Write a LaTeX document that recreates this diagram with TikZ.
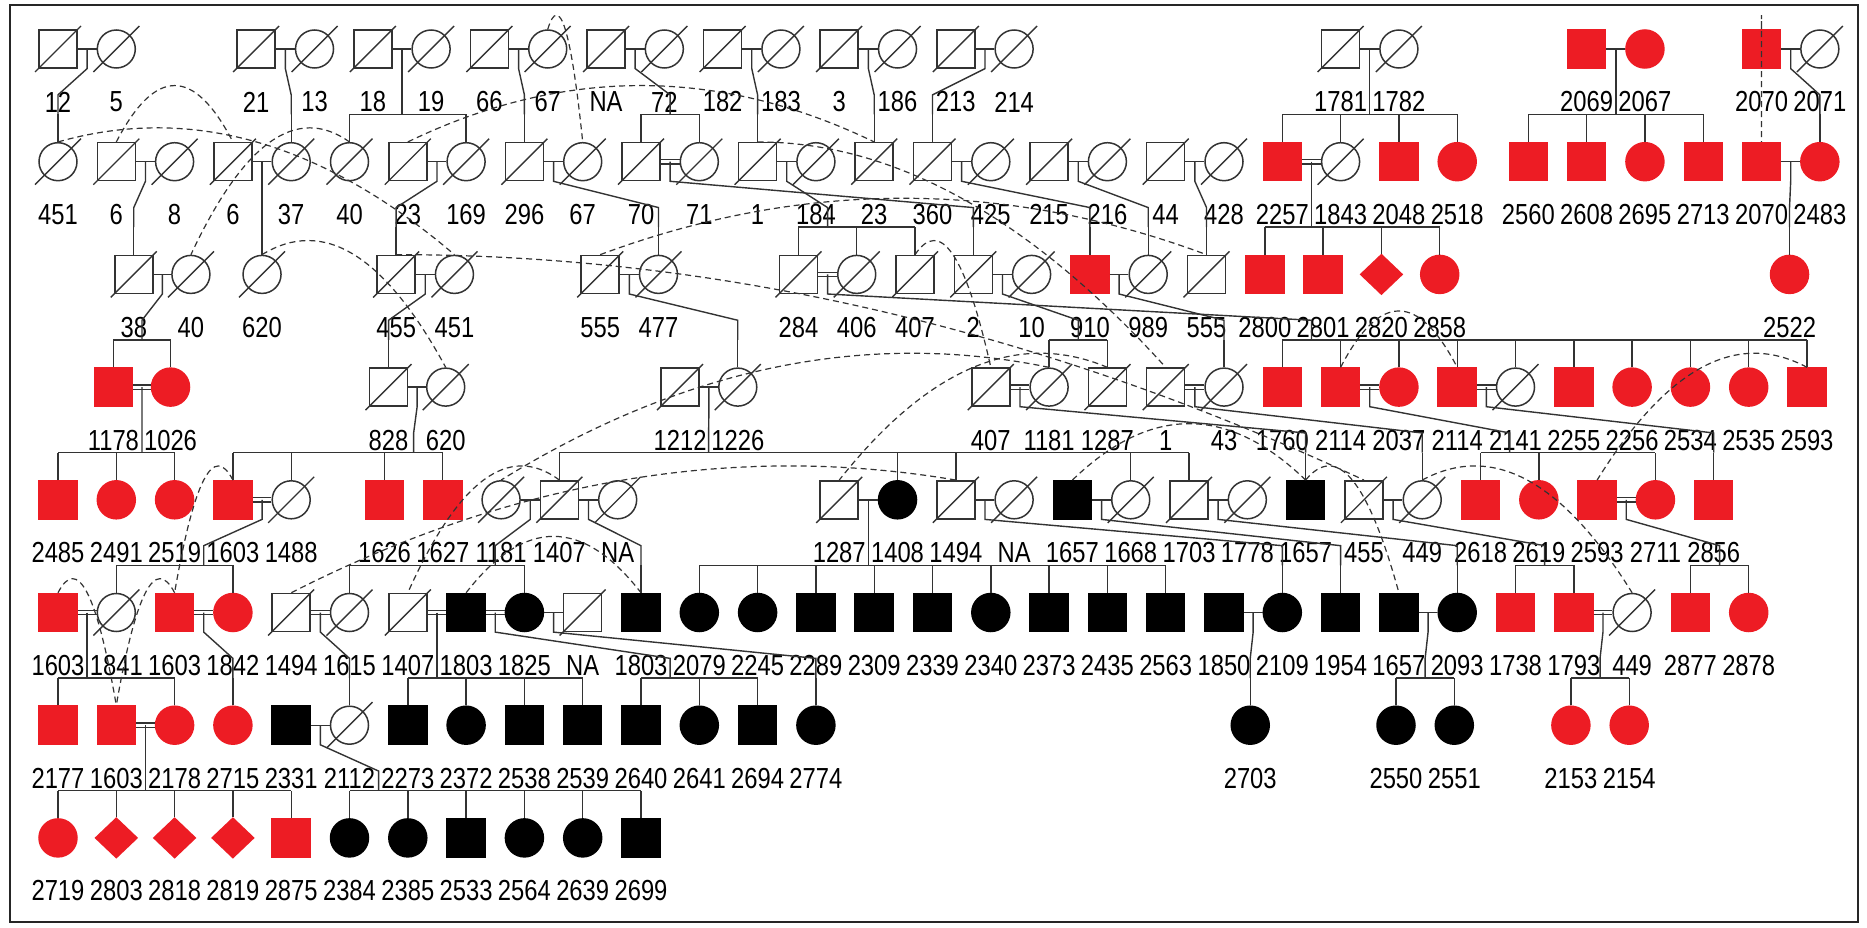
\documentclass[tikz,border=0pt]{standalone}
\usepackage{fontspec}
\newfontfamily\labfont{Liberation Sans}[FakeStretch=0.82]
\usetikzlibrary{shapes.geometric,calc}
\definecolor{pedred}{RGB}{237,28,36}
\definecolor{ink}{gray}{0.2}

% one person: name, shape style, position, label
\newcommand\person[4]{\node[#2] (#1) at (#3) {};
  \node[lab] (l#1) at ([yshift=-53pt]#1.center) {#4};}
\newcommand\deadp[4]{\person{#1}{#2}{#3}{#4}
  \draw[conn] ([shift={(-23pt,-23pt)}]#1.center) -- ([shift={(23pt,23pt)}]#1.center);}
% marriages
\newcommand\mar[2]{\draw[conn] (#1.east) -- (#2.west);}
\newcommand\dmar[2]{\draw[conn] ([yshift=2.2pt]#1.east) -- ([yshift=2.2pt]#2.west)
  ([yshift=-2.2pt]#1.east) -- ([yshift=-2.2pt]#2.west);}
% parents, parent row, join column, first child, last child, children
\newcommand\kids[7]{\coordinate (bar) at (0,#3+.581);
  \draw[conn] ($(#1)!.5!(#2)$) -- ++(0,.174) -- (#4,#3+.407) -- (#4,#3+.581);
  \draw[conn] (#5.north |- bar) -- (#6.north |- bar);
  \foreach \kd in {#7} \draw[conn] (\kd.north) -- (\kd.north |- bar);}
% same person drawn twice
\newcommand\dup[2]{\draw[dupl] (#1.north) .. controls ($(#1.north)!1/3!(#2.north)+(0,-.667)$)
  and ($(#1.north)!2/3!(#2.north)+(0,-.667)$) .. (#2.north);}

\begin{document}
\begin{tikzpicture}[x=58.3pt,y=-112.7pt,
  ind/.style={draw=ink,line width=1.5pt,fill=white,inner sep=0pt},
  m/.style={ind,rectangle,minimum width=38pt,minimum height=38pt},
  f/.style={ind,circle,minimum size=38pt},
  u/.style={ind,diamond,minimum width=42pt,minimum height=40pt},
  aff/.style={fill=pedred,draw=pedred},
  blk/.style={fill=black,draw=black},
  conn/.style={draw=ink,line width=1.4pt},
  dupl/.style={draw=ink,line width=1.2pt,dash pattern=on 6pt off 4pt},
  lab/.style={font=\fontsize{29}{29}\labfont,text=black,inner sep=0pt}]
\useasboundingbox (-58pt,49pt) rectangle (1809pt,-879pt);
\draw[line width=1.8pt,black!85] (-48pt,44pt) rectangle (1800pt,-873pt);
% ---- generation I ----
\deadp{n12}{m}{0,0}{12} \deadp{n5}{f}{1,0}{5}
\deadp{n21}{m}{3.4,0}{21} \deadp{n13}{f}{4.4,0}{13}
\deadp{n18}{m}{5.4,0}{18} \deadp{n19}{f}{6.4,0}{19}
\deadp{n66}{m}{7.4,0}{66} \deadp{n67a}{f}{8.4,0}{67}
\deadp{nNAa}{m}{9.4,0}{NA} \deadp{n72}{f}{10.4,0}{72}
\deadp{n182}{m}{11.4,0}{182} \deadp{n183}{f}{12.4,0}{183}
\deadp{n3}{m}{13.4,0}{3} \deadp{n186}{f}{14.4,0}{186}
\deadp{n213}{m}{15.4,0}{213} \deadp{n214}{f}{16.4,0}{214}
\deadp{n1781}{m}{22,0}{1781} \deadp{n1782}{f}{23,0}{1782}
\person{n2069}{m,aff}{26.22,0}{2069} \person{n2067}{f,aff}{27.22,0}{2067}
\person{n2070a}{m,aff}{29.22,0}{2070} \deadp{n2071}{f}{30.22,0}{2071}
% ---- generation II ----
\deadp{n451a}{f}{0,1}{451} \deadp{n6a}{m}{1,1}{6} \deadp{n8}{f}{2,1}{8}
\deadp{n6b}{m}{3,1}{6} \deadp{n37}{f}{4,1}{37} \deadp{n40a}{f}{5,1}{40}
\deadp{n23a}{m}{6,1}{23} \deadp{n169}{f}{7,1}{169} \deadp{n296}{m}{8,1}{296}
\deadp{n67b}{f}{9,1}{67} \deadp{n70}{m}{10,1}{70} \deadp{n71}{f}{11,1}{71}
\deadp{n1a}{m}{12,1}{1} \deadp{n184}{f}{13,1}{184} \deadp{n23b}{m}{14,1}{23}
\deadp{n360}{m}{15,1}{360} \deadp{n425}{f}{16,1}{425} \deadp{n215}{m}{17,1}{215}
\deadp{n216}{f}{18,1}{216} \deadp{n44}{m}{19,1}{44} \deadp{n428}{f}{20,1}{428}
\person{n2257}{m,aff}{21,1}{2257} \deadp{n1843}{f}{22,1}{1843}
\person{n2048}{m,aff}{23,1}{2048} \person{n2518}{f,aff}{24,1}{2518}
\person{n2560}{m,aff}{25.22,1}{2560} \person{n2608}{m,aff}{26.22,1}{2608}
\person{n2695}{f,aff}{27.22,1}{2695} \person{n2713}{m,aff}{28.22,1}{2713}
\person{n2070b}{m,aff}{29.22,1}{2070} \person{n2483}{f,aff}{30.22,1}{2483}
% ---- generation III ----
\deadp{n38}{m}{1.3,2}{38} \deadp{n40b}{f}{2.28,2}{40} \deadp{n620a}{f}{3.5,2}{620}
\deadp{n455a}{m}{5.8,2}{455} \deadp{n451b}{f}{6.8,2}{451}
\deadp{n555a}{m}{9.3,2}{555} \deadp{n477}{f}{10.3,2}{477}
\deadp{n284}{m}{12.7,2}{284} \deadp{n406}{f}{13.7,2}{406} \deadp{n407a}{m}{14.7,2}{407}
\deadp{n2}{m}{15.7,2}{2} \deadp{n10}{f}{16.7,2}{10} \person{n910}{m,aff}{17.7,2}{910}
\deadp{n989}{f}{18.7,2}{989} \deadp{n555b}{m}{19.7,2}{555}
\person{n2800}{m,aff}{20.7,2}{2800} \person{n2801}{m,aff}{21.7,2}{2801}
\person{n2820}{u,aff}{22.7,2}{2820} \person{n2858}{f,aff}{23.7,2}{2858}
\person{n2522}{f,aff}{29.7,2}{2522}
% ---- generation IV ----
\person{n1178}{m,aff}{0.95,3}{1178} \person{n1026}{f,aff}{1.93,3}{1026}
\deadp{n828}{m}{5.67,3}{828} \deadp{n620b}{f}{6.65,3}{620}
\deadp{n1212}{m}{10.67,3}{1212} \deadp{n1226}{f}{11.66,3}{1226}
\deadp{n407b}{m}{16,3}{407} \deadp{n1181a}{f}{17,3}{1181} \deadp{n1287a}{m}{18,3}{1287}
\deadp{n1b}{m}{19,3}{1} \deadp{n43}{f}{20,3}{43}
\person{n1760}{m,aff}{21,3}{1760} \person{n2114a}{m,aff}{22,3}{2114}
\person{n2037}{f,aff}{23,3}{2037} \person{n2114b}{m,aff}{24,3}{2114}
\deadp{n2141}{f}{25,3}{2141} \person{n2255}{m,aff}{26,3}{2255}
\person{n2256}{f,aff}{27,3}{2256} \person{n2534}{f,aff}{28,3}{2534}
\person{n2535}{f,aff}{29,3}{2535} \person{n2593a}{m,aff}{30,3}{2593}
% ---- generation V ----
\person{n2485}{m,aff}{0,4}{2485} \person{n2491}{f,aff}{1,4}{2491}
\person{n2519}{f,aff}{2,4}{2519} \person{n1603a}{m,aff}{3,4}{1603}
\deadp{n1488}{f}{4,4}{1488} \person{n1626}{m,aff}{5.6,4}{1626}
\person{n1627}{m,aff}{6.6,4}{1627} \deadp{n1181b}{f}{7.6,4}{1181}
\deadp{n1407a}{m}{8.6,4}{1407} \deadp{nNAb}{f}{9.6,4}{NA}
\deadp{n1287b}{m}{13.4,4}{1287} \person{n1408}{f,blk}{14.4,4}{1408}
\deadp{n1494a}{m}{15.4,4}{1494} \deadp{nNAc}{f}{16.4,4}{NA}
\person{n1657a}{m,blk}{17.4,4}{1657} \deadp{n1668}{f}{18.4,4}{1668}
\deadp{n1703}{m}{19.4,4}{1703} \deadp{n1778}{f}{20.4,4}{1778}
\person{n1657b}{m,blk}{21.4,4}{1657} \deadp{n455b}{m}{22.4,4}{455}
\deadp{n449a}{f}{23.4,4}{449} \person{n2618}{m,aff}{24.4,4}{2618}
\person{n2619}{f,aff}{25.4,4}{2619} \person{n2593b}{m,aff}{26.4,4}{2593}
\person{n2711}{f,aff}{27.4,4}{2711} \person{n2856}{m,aff}{28.4,4}{2856}
% ---- generation VI ----
\person{n1603b}{m,aff}{0,5}{1603} \deadp{n1841}{f}{1,5}{1841}
\person{n1603c}{m,aff}{2,5}{1603} \person{n1842}{f,aff}{3,5}{1842}
\deadp{n1494b}{m}{4,5}{1494} \deadp{n1615}{f}{5,5}{1615}
\deadp{n1407b}{m}{6,5}{1407} \person{n1803a}{m,blk}{7,5}{1803}
\person{n1825}{f,blk}{8,5}{1825} \deadp{nNAd}{m}{9,5}{NA}
\person{n1803b}{m,blk}{10,5}{1803} \person{n2079}{f,blk}{11,5}{2079}
\person{n2245}{f,blk}{12,5}{2245} \person{n2289}{m,blk}{13,5}{2289}
\person{n2309}{m,blk}{14,5}{2309} \person{n2339}{m,blk}{15,5}{2339}
\person{n2340}{f,blk}{16,5}{2340} \person{n2373}{m,blk}{17,5}{2373}
\person{n2435}{m,blk}{18,5}{2435} \person{n2563}{m,blk}{19,5}{2563}
\person{n1850}{m,blk}{20,5}{1850} \person{n2109}{f,blk}{21,5}{2109}
\person{n1954}{m,blk}{22,5}{1954} \person{n1657c}{m,blk}{23,5}{1657}
\person{n2093}{f,blk}{24,5}{2093} \person{n1738}{m,aff}{25,5}{1738}
\person{n1793}{m,aff}{26,5}{1793} \deadp{n449b}{f}{27,5}{449}
\person{n2877}{m,aff}{28,5}{2877} \person{n2878}{f,aff}{29,5}{2878}
% ---- generation VII ----
\person{n2177}{m,aff}{0,6}{2177} \person{n1603d}{m,aff}{1,6}{1603}
\person{n2178}{f,aff}{2,6}{2178} \person{n2715}{f,aff}{3,6}{2715}
\person{n2331}{m,blk}{4,6}{2331} \deadp{n2112}{f}{5,6}{2112}
\person{n2273}{m,blk}{6,6}{2273} \person{n2372}{f,blk}{7,6}{2372}
\person{n2538}{m,blk}{8,6}{2538} \person{n2539}{m,blk}{9,6}{2539}
\person{n2640}{m,blk}{10,6}{2640} \person{n2641}{f,blk}{11,6}{2641}
\person{n2694}{m,blk}{12,6}{2694} \person{n2774}{f,blk}{13,6}{2774}
\person{n2703}{f,blk}{20.45,6}{2703} \person{n2550}{f,blk}{22.95,6}{2550}
\person{n2551}{f,blk}{23.95,6}{2551} \person{n2153}{f,aff}{25.95,6}{2153}
\person{n2154}{f,aff}{26.95,6}{2154}
% ---- generation VIII ----
\person{n2719}{f,aff}{0,7}{2719} \person{n2803}{u,aff}{1,7}{2803}
\person{n2818}{u,aff}{2,7}{2818} \person{n2819}{u,aff}{3,7}{2819}
\person{n2875}{m,aff}{4,7}{2875} \person{n2384}{f,blk}{5,7}{2384}
\person{n2385}{f,blk}{6,7}{2385} \person{n2533}{m,blk}{7,7}{2533}
\person{n2564}{f,blk}{8,7}{2564} \person{n2639}{f,blk}{9,7}{2639}
\person{n2699}{m,blk}{10,7}{2699}
% ---- marriages ----
\mar{n12}{n5} \mar{n21}{n13} \mar{n18}{n19} \mar{n66}{n67a} \mar{nNAa}{n72}
\mar{n182}{n183} \mar{n3}{n186} \mar{n213}{n214} \mar{n1781}{n1782}
\mar{n2069}{n2067} \mar{n2070a}{n2071}
\mar{n6a}{n8} \mar{n6b}{n37} \mar{n23a}{n169} \mar{n296}{n67b} \dmar{n70}{n71}
\mar{n1a}{n184} \mar{n360}{n425} \mar{n215}{n216} \mar{n44}{n428}
\dmar{n2257}{n1843} \mar{n2070b}{n2483}
\mar{n38}{n40b} \mar{n455a}{n451b} \mar{n555a}{n477} \dmar{n284}{n406}
\mar{n2}{n10} \mar{n910}{n989}
\dmar{n1178}{n1026} \mar{n828}{n620b} \mar{n1212}{n1226} \dmar{n407b}{n1181a}
\dmar{n1b}{n43} \dmar{n2114a}{n2037} \dmar{n2114b}{n2141}
\dmar{n1603a}{n1488} \mar{n1181b}{n1407a} \mar{n1407a}{nNAb} \mar{n1287b}{n1408}
\mar{n1494a}{nNAc} \mar{n1657a}{n1668} \mar{n1703}{n1778} \mar{n455b}{n449a}
\dmar{n2593b}{n2711}
\dmar{n1603b}{n1841} \dmar{n1603c}{n1842} \dmar{n1494b}{n1615} \dmar{n1407b}{n1803a}
\dmar{n1803a}{n1825} \mar{n1825}{nNAd} \mar{n1850}{n2109} \mar{n1657c}{n2093}
\dmar{n1793}{n449b}
\dmar{n1603d}{n2178} \mar{n2331}{n2112}
% ---- parents to children ----
\kids{n12}{n5}{0}{0}{n451a}{n451a}{n451a}
\kids{n21}{n13}{0}{4}{n37}{n37}{n37}
\kids{n18}{n19}{0}{5.9}{n40a}{n169}{n40a,n169}
\kids{n66}{n67a}{0}{8}{n296}{n296}{n296}
\kids{nNAa}{n72}{0}{10.5}{n70}{n71}{n70,n71}
\kids{n182}{n183}{0}{12}{n1a}{n1a}{n1a}
\kids{n3}{n186}{0}{14}{n23b}{n23b}{n23b}
\kids{n213}{n214}{0}{15}{n360}{n360}{n360}
\kids{n1781}{n1782}{0}{22.5}{n2257}{n2518}{n2257,n1843,n2048,n2518}
\kids{n2069}{n2067}{0}{26.72}{n2560}{n2713}{n2560,n2608,n2695,n2713}
\kids{n2070a}{n2071}{0}{30.22}{n2483}{n2483}{n2483}
\kids{n6a}{n8}{1}{1.3}{n38}{n38}{n38}
\kids{n6b}{n37}{1}{3.5}{n620a}{n620a}{n620a}
\kids{n23a}{n169}{1}{5.8}{n455a}{n455a}{n455a}
\kids{n296}{n67b}{1}{10.3}{n477}{n477}{n477}
\kids{n70}{n71}{1}{15.7}{n2}{n2}{n2}
\kids{n1a}{n184}{1}{13.2}{n284}{n407a}{n284,n406,n407a}
\kids{n360}{n425}{1}{17.7}{n910}{n910}{n910}
\kids{n215}{n216}{1}{18.7}{n989}{n989}{n989}
\kids{n44}{n428}{1}{19.7}{n555b}{n555b}{n555b}
\kids{n2257}{n1843}{1}{21.5}{n2800}{n2858}{n2800,n2801,n2820,n2858}
\kids{n2070b}{n2483}{1}{29.7}{n2522}{n2522}{n2522}
\kids{n38}{n40b}{2}{1.44}{n1178}{n1026}{n1178,n1026}
\kids{n455a}{n451b}{2}{5.67}{n828}{n828}{n828}
\kids{n555a}{n477}{2}{11.66}{n1226}{n1226}{n1226}
\kids{n284}{n406}{2}{21.5}{n1760}{n2593a}{n1760,n2114a,n2037,n2114b,n2141,n2255,n2256,n2534,n2535,n2593a}
\kids{n2}{n10}{2}{17.5}{n1181a}{n1287a}{n1181a,n1287a}
\kids{n910}{n989}{2}{20}{n43}{n43}{n43}
\kids{n1178}{n1026}{3}{1.44}{n2485}{n2519}{n2485,n2491,n2519}
\kids{n828}{n620b}{3}{6.1}{n1603a}{n1627}{n1603a,n1488,n1626,n1627}
\kids{n1212}{n1226}{3}{11.16}{n1407a}{n1703}{n1407a,n1408,n1494a,n1668,n1703}
\kids{n407b}{n1181a}{3}{21.4}{n1657b}{n1657b}{n1657b}
\kids{n1b}{n43}{3}{23.4}{n449a}{n449a}{n449a}
\kids{n2114a}{n2037}{3}{24.9}{n2618}{n2711}{n2618,n2619,n2711}
\kids{n2114b}{n2141}{3}{28.4}{n2856}{n2856}{n2856}
\kids{n1603a}{n1488}{4}{2.5}{n1841}{n1842}{n1841,n1842}
\kids{n1181b}{n1407a}{4}{7.5}{n1615}{n1825}{n1615,n1825}
\kids{n1407a}{nNAb}{4}{10}{n1803b}{n1803b}{n1803b}
\kids{n1287b}{n1408}{4}{13.9}{n2079}{n2563}{n2079,n2245,n2289,n2309,n2339,n2340,n2373,n2435,n2563}
\kids{n1494a}{nNAc}{4}{21}{n2109}{n2109}{n2109}
\kids{n1657a}{n1668}{4}{22}{n1954}{n1954}{n1954}
\kids{n1703}{n1778}{4}{24}{n2093}{n2093}{n2093}
\kids{n455b}{n449a}{4}{25.5}{n1738}{n1793}{n1738,n1793}
\kids{n2593b}{n2711}{4}{28.5}{n2877}{n2878}{n2877,n2878}
\kids{n1603b}{n1841}{5}{0.5}{n2177}{n2178}{n2177,n2178}
\kids{n1603c}{n1842}{5}{3}{n2715}{n2715}{n2715}
\kids{n1494b}{n1615}{5}{5}{n2112}{n2112}{n2112}
\kids{n1407b}{n1803a}{5}{6.5}{n2273}{n2539}{n2273,n2372,n2538,n2539}
\kids{n1803a}{n1825}{5}{10.5}{n2640}{n2694}{n2640,n2641,n2694}
\kids{n1825}{nNAd}{5}{13}{n2774}{n2774}{n2774}
\kids{n1850}{n2109}{5}{20.45}{n2703}{n2703}{n2703}
\kids{n1657c}{n2093}{5}{23.45}{n2550}{n2551}{n2550,n2551}
\kids{n1793}{n449b}{5}{26.45}{n2153}{n2154}{n2153,n2154}
\kids{n1603d}{n2178}{6}{1.5}{n2719}{n2875}{n2719,n2803,n2818,n2819,n2875}
\kids{n2331}{n2112}{6}{5.5}{n2384}{n2699}{n2384,n2385,n2533,n2564,n2639,n2699}
% ---- repeated individuals ----
\dup{n2070a}{n2070b} \dup{n67a}{n67b} \dup{n40a}{n40b} \dup{n451a}{n451b}
\dup{n6a}{n6b} \dup{n23a}{n23b} \dup{n1a}{n1b} \dup{n620a}{n620b}
\dup{n455a}{n455b} \dup{n555a}{n555b} \dup{n407a}{n407b} \dup{n1181a}{n1181b}
\dup{n1287a}{n1287b} \dup{n2114a}{n2114b} \dup{n2593a}{n2593b}
\dup{n1603a}{n1603c} \dup{n1603c}{n1603d} \dup{n1603b}{n1603d}
\dup{n1494a}{n1494b} \dup{n1407a}{n1407b} \dup{n1803a}{n1803b}
\dup{n1657a}{n1657b} \dup{n1657b}{n1657c} \dup{n449a}{n449b}
\end{tikzpicture}
\end{document}
